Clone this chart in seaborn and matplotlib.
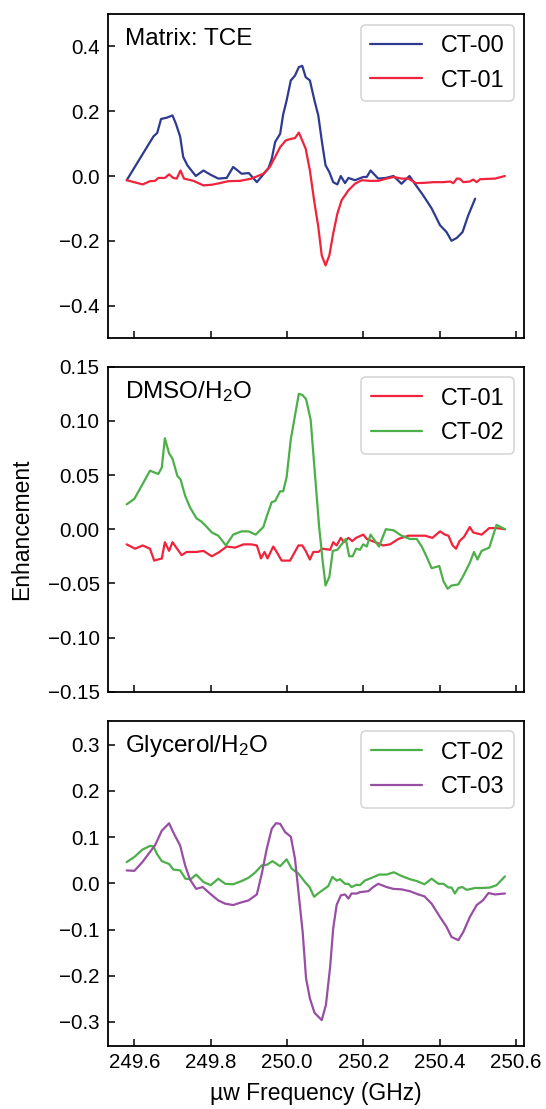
import numpy as np
import pandas as pd
import matplotlib
matplotlib.use("Agg")
import matplotlib.pyplot as plt
import seaborn as sns

# ---------------- data ----------------
# Panel 1: Matrix TCE
tce_ct00_x = [249.580, 249.650, 249.660, 249.670, 249.685, 249.700, 249.709, 249.720, 249.728, 249.739,
              249.761, 249.781, 249.798, 249.820, 249.842, 249.859, 249.881, 249.900, 249.921, 249.938,
              249.951, 249.960, 249.969, 249.982, 249.990, 249.999, 250.010, 250.021, 250.031, 250.040,
              250.049, 250.060, 250.072, 250.082, 250.091, 250.101, 250.111, 250.121, 250.132, 250.141,
              250.152, 250.161, 250.178, 250.200, 250.209, 250.219, 250.239, 250.259, 250.279, 250.300,
              250.321, 250.335, 250.357, 250.379, 250.401, 250.418, 250.431, 250.445, 250.460, 250.475,
              250.493]
tce_ct00_y = [-0.013, 0.122, 0.133, 0.176, 0.180, 0.187, 0.161, 0.122, 0.059, 0.033,
              0.000, 0.017, 0.005, -0.008, -0.006, 0.028, 0.007, 0.009, -0.019, 0.005,
              0.023, 0.053, 0.105, 0.130, 0.190, 0.233, 0.295, 0.310, 0.336, 0.340,
              0.305, 0.295, 0.233, 0.187, 0.110, 0.033, 0.012, -0.019, -0.026, 0.000,
              -0.022, -0.006, -0.013, -0.003, -0.003, 0.017, -0.008, -0.006, 0.000, -0.024,
              0.000, -0.024, -0.060, -0.100, -0.152, -0.173, -0.200, -0.191, -0.173, -0.121,
              -0.070]

tce_ct01_x = [249.580, 249.622, 249.641, 249.654, 249.663, 249.680, 249.691, 249.702, 249.711, 249.721,
              249.730, 249.755, 249.781, 249.803, 249.824, 249.846, 249.877, 249.907, 249.938, 249.955,
              249.969, 249.982, 249.997, 250.012, 250.021, 250.031, 250.038, 250.049, 250.060, 250.071,
              250.082, 250.091, 250.101, 250.111, 250.121, 250.132, 250.143, 250.161, 250.178, 250.196,
              250.217, 250.239, 250.261, 250.280, 250.300, 250.318, 250.338, 250.362, 250.383, 250.410,
              250.427, 250.436, 250.445, 250.452, 250.462, 250.479, 250.488, 250.497, 250.506, 250.523,
              250.545, 250.571]
tce_ct01_y = [-0.013, -0.026, -0.016, -0.015, -0.006, -0.006, 0.005, -0.006, -0.008, 0.017,
              -0.008, -0.015, -0.029, -0.027, -0.022, -0.016, -0.015, -0.008, 0.007, 0.028,
              0.059, 0.089, 0.110, 0.115, 0.117, 0.134, 0.115, 0.084, 0.017, -0.075,
              -0.157, -0.245, -0.276, -0.245, -0.178, -0.116, -0.075, -0.044, -0.024, -0.013,
              -0.015, -0.015, -0.008, -0.003, -0.008, -0.008, -0.022, -0.021, -0.019, -0.019,
              -0.017, -0.022, -0.008, -0.008, -0.019, -0.017, -0.011, -0.019, -0.010, -0.009,
              -0.008, 0.000]

# Panel 2: DMSO/H2O
dmso_ct01_x = [249.580, 249.602, 249.622, 249.641, 249.652, 249.672, 249.680, 249.691, 249.700, 249.724,
               249.737, 249.763, 249.781, 249.803, 249.823, 249.842, 249.864, 249.886, 249.907, 249.921,
               249.932, 249.941, 249.949, 249.964, 249.973, 249.986, 250.008, 250.030, 250.040, 250.049,
               250.060, 250.069, 250.082, 250.093, 250.113, 250.121, 250.130, 250.141, 250.149, 250.161,
               250.171, 250.181, 250.200, 250.209, 250.231, 250.252, 250.270, 250.292, 250.318, 250.340,
               250.362, 250.381, 250.401, 250.414, 250.423, 250.434, 250.443, 250.452, 250.464, 250.479,
               250.488, 250.510, 250.530, 250.549, 250.571]
dmso_ct01_y = [-0.014, -0.018, -0.015, -0.018, -0.029, -0.027, -0.012, -0.020, -0.012, -0.024,
               -0.021, -0.021, -0.020, -0.025, -0.021, -0.016, -0.017, -0.014, -0.014, -0.015,
               -0.027, -0.021, -0.027, -0.016, -0.021, -0.029, -0.029, -0.015, -0.015, -0.020,
               -0.028, -0.021, -0.021, -0.018, -0.019, -0.012, -0.015, -0.008, -0.012, -0.008,
               -0.011, -0.008, -0.005, -0.009, -0.012, -0.015, -0.014, -0.009, -0.006, -0.006,
               -0.006, -0.008, -0.002, -0.005, -0.006, -0.015, -0.018, -0.011, -0.007, 0.002,
               -0.003, -0.005, 0.001, 0.001, 0.000]

dmso_ct02_x = [249.580, 249.600, 249.619, 249.641, 249.663, 249.672, 249.680, 249.691, 249.700, 249.713,
               249.721, 249.733, 249.746, 249.763, 249.776, 249.790, 249.803, 249.820, 249.840, 249.859,
               249.881, 249.899, 249.918, 249.938, 249.947, 249.960, 249.969, 249.982, 249.990, 249.999,
               250.010, 250.019, 250.031, 250.040, 250.050, 250.062, 250.073, 250.084, 250.093, 250.101,
               250.111, 250.120, 250.132, 250.143, 250.154, 250.163, 250.172, 250.181, 250.191, 250.200,
               250.209, 250.219, 250.231, 250.241, 250.259, 250.279, 250.300, 250.322, 250.340, 250.353,
               250.364, 250.379, 250.399, 250.410, 250.421, 250.431, 250.449, 250.462, 250.479, 250.490,
               250.499, 250.510, 250.530, 250.549, 250.571]
dmso_ct02_y = [0.023, 0.028, 0.040, 0.054, 0.051, 0.057, 0.084, 0.070, 0.065, 0.049,
               0.046, 0.031, 0.020, 0.010, 0.007, 0.002, -0.003, -0.006, -0.015, -0.005,
               -0.002, -0.002, -0.005, 0.002, 0.012, 0.025, 0.026, 0.035, 0.035, 0.048,
               0.083, 0.101, 0.125, 0.124, 0.120, 0.101, 0.052, 0.003, -0.028, -0.052,
               -0.044, -0.020, -0.019, -0.014, -0.009, -0.025, -0.025, -0.018, -0.019, -0.014,
               -0.016, -0.005, -0.011, -0.016, 0.000, -0.001, -0.006, -0.009, -0.009, -0.016,
               -0.024, -0.036, -0.034, -0.048, -0.055, -0.052, -0.051, -0.043, -0.031, -0.021,
               -0.028, -0.020, -0.017, 0.004, 0.000]

# Panel 3: Glycerol/H2O
gly_ct02_x = [249.580, 249.600, 249.621, 249.641, 249.650, 249.659, 249.672, 249.691, 249.702, 249.720,
              249.734, 249.748, 249.762, 249.781, 249.800, 249.820, 249.838, 249.859, 249.881, 249.899,
              249.916, 249.934, 249.947, 249.962, 249.982, 249.999, 250.012, 250.030, 250.049, 250.059,
              250.071, 250.086, 250.108, 250.119, 250.130, 250.139, 250.152, 250.161, 250.169, 250.183,
              250.191, 250.204, 250.222, 250.242, 250.261, 250.280, 250.300, 250.322, 250.340, 250.360,
              250.379, 250.397, 250.410, 250.423, 250.431, 250.440, 250.449, 250.459, 250.471, 250.493,
              250.514, 250.532, 250.549, 250.571]
gly_ct02_y = [0.046, 0.057, 0.073, 0.081, 0.080, 0.064, 0.048, 0.042, 0.030, 0.028,
              0.010, 0.009, 0.019, 0.003, -0.004, 0.010, -0.001, -0.002, 0.005, 0.012,
              0.023, 0.039, 0.040, 0.048, 0.037, 0.052, 0.032, 0.021, 0.001, -0.008,
              -0.029, -0.019, -0.006, 0.014, 0.006, 0.009, -0.001, -0.001, -0.008, -0.003,
              -0.004, 0.006, 0.012, 0.019, 0.019, 0.024, 0.016, 0.009, 0.005, -0.002,
              0.010, -0.001, -0.001, -0.009, -0.009, -0.022, -0.010, -0.008, -0.014, -0.010,
              -0.010, -0.009, -0.004, 0.015]

gly_ct03_x = [249.580, 249.600, 249.621, 249.641, 249.654, 249.672, 249.691, 249.704, 249.720, 249.733,
              249.746, 249.762, 249.779, 249.798, 249.820, 249.838, 249.859, 249.877, 249.899, 249.921,
              249.934, 249.947, 249.960, 249.971, 249.982, 249.995, 250.010, 250.021, 250.031, 250.041,
              250.050, 250.060, 250.072, 250.091, 250.102, 250.113, 250.121, 250.130, 250.141, 250.152,
              250.161, 250.169, 250.183, 250.191, 250.213, 250.226, 250.239, 250.261, 250.279, 250.300,
              250.322, 250.344, 250.360, 250.379, 250.401, 250.418, 250.431, 250.449, 250.462, 250.479,
              250.497, 250.513, 250.528, 250.545, 250.571]
gly_ct03_y = [0.028, 0.027, 0.046, 0.068, 0.082, 0.114, 0.130, 0.107, 0.082, 0.039,
              0.008, -0.012, -0.008, -0.022, -0.037, -0.044, -0.047, -0.042, -0.037, -0.024,
              0.021, 0.075, 0.118, 0.130, 0.129, 0.111, 0.101, 0.053, -0.026, -0.105,
              -0.206, -0.249, -0.280, -0.296, -0.263, -0.181, -0.098, -0.047, -0.026, -0.024,
              -0.033, -0.022, -0.022, -0.019, -0.017, -0.008, -0.001, -0.008, -0.012, -0.013,
              -0.017, -0.024, -0.028, -0.044, -0.073, -0.094, -0.116, -0.123, -0.105, -0.073,
              -0.047, -0.037, -0.021, -0.024, -0.022]

panel_titles = ["Matrix: TCE", "DMSO/H$_2$O", "Glycerol/H$_2$O"]
x_ticks = [249.6, 249.8, 250.0, 250.2, 250.4, 250.6]
x_tick_labels = ["249.6", "249.8", "250.0", "250.2", "250.4", "250.6"]
y_ticks_1 = [-0.4, -0.2, 0.0, 0.2, 0.4]
y_ticks_2 = [-0.15, -0.10, -0.05, 0.00, 0.05, 0.10, 0.15]
y_ticks_3 = [-0.3, -0.2, -0.1, 0.0, 0.1, 0.2, 0.3]

colors = {"CT-00": "#2e3a8f", "CT-01": "#ef233c", "CT-02": "#4daf4a", "CT-03": "#984ea3"}

# ---------------- style ----------------
sns.set_theme(style="ticks")
plt.rcParams["font.family"] = ["Liberation Sans", "DejaVu Sans"]
plt.rcParams["mathtext.default"] = "regular"
plt.rcParams["axes.linewidth"] = 1.3
plt.rcParams["text.color"] = "black"
plt.rcParams["axes.labelcolor"] = "black"
plt.rcParams["xtick.color"] = "black"
plt.rcParams["ytick.color"] = "black"

fig = plt.figure(figsize=(5.46, 11.09), dpi=100)
W, H = 546.0, 1109.0
left, right = 108 / W, 524 / W
boxes = [(14, 338), (366.7, 691.7), (720.7, 1046)]
axes = []
for top, bot in boxes:
    axes.append(fig.add_axes([left, 1 - bot / H, right - left, (bot - top) / H]))

panels = [
    [("CT-00", tce_ct00_x, tce_ct00_y), ("CT-01", tce_ct01_x, tce_ct01_y)],
    [("CT-01", dmso_ct01_x, dmso_ct01_y), ("CT-02", dmso_ct02_x, dmso_ct02_y)],
    [("CT-02", gly_ct02_x, gly_ct02_y), ("CT-03", gly_ct03_x, gly_ct03_y)],
]
ylims = [(-0.5, 0.5), (-0.15, 0.15), (-0.352, 0.352)]
yticks = [y_ticks_1, y_ticks_2, y_ticks_3]
ytick_fmt = ["{:.1f}", "{:.2f}", "{:.1f}"]

for i, (ax, series) in enumerate(zip(axes, panels)):
    for name, xs, ys in series:
        df = pd.DataFrame({"x": xs, "y": ys})
        sns.lineplot(data=df, x="x", y="y", ax=ax, color=colors[name], label=name,
                     linewidth=1.6, estimator=None, sort=False)
    ax.set_xlim(249.531, 250.621)
    ax.set_ylim(*ylims[i])
    ax.set_xticks(x_ticks)
    ax.set_yticks(yticks[i])
    ax.set_yticklabels([ytick_fmt[i].format(v).replace("-", "\u2212") for v in yticks[i]])
    if i == 2:
        ax.set_xticklabels(x_tick_labels)
        ax.set_xlabel("\u00b5w Frequency (GHz)", fontsize=16.5, labelpad=7, color="black")
    else:
        ax.set_xticklabels([])
        ax.set_xlabel("")
    ax.set_ylabel("")
    ax.tick_params(axis="both", direction="in", length=5, width=1.1, labelsize=14.8,
                   colors="black")
    ax.tick_params(axis="y", pad=6)
    ax.tick_params(axis="x", pad=5)
    for s in ax.spines.values():
        s.set_visible(True)
        s.set_color("black")
        s.set_linewidth(1.3)
    ax.text(0.04, 0.903, panel_titles[i], transform=ax.transAxes, fontsize=17.5,
            ha="left", va="baseline", color="black")
    leg = ax.legend(loc="upper right", fontsize=16.8, frameon=True, fancybox=True,
                    handlelength=2.2, handletextpad=0.8, borderaxespad=0.45)
    leg.get_frame().set_edgecolor("0.8")
    leg.get_frame().set_linewidth(1.2)
    for t in leg.get_texts():
        t.set_color("black")

axes[1].set_ylabel("Enhancement", fontsize=16.5, color="black")
axes[1].yaxis.set_label_coords(-0.18, 0.5)

fig.savefig("out.png", dpi=100)
